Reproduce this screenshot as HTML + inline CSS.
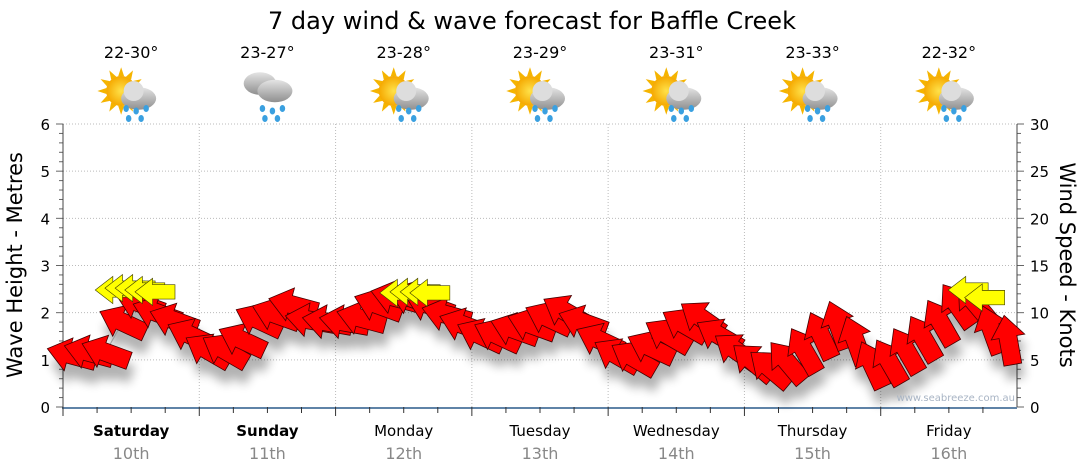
<!DOCTYPE html>
<html><head><meta charset="utf-8"><style>
body{margin:0;background:#fff;}
svg{display:block;font-family:"DejaVu Sans","Liberation Sans",sans-serif;}
</style></head><body>
<svg id="c" width="1080" height="475" viewBox="0 0 1080 475">
<defs>
<filter id="sh" x="-50%" y="-50%" width="200%" height="200%"><feGaussianBlur stdDeviation="5"/></filter>
<radialGradient id="sun" cx="50%" cy="50%" r="50%"><stop offset="0" stop-color="#ffe24a"/><stop offset="1" stop-color="#f5a800"/></radialGradient>
<linearGradient id="cl" x1="0" y1="0" x2="0" y2="1"><stop offset="0" stop-color="#e4e4e4"/><stop offset="1" stop-color="#8f8f8f"/></linearGradient>
</defs>
<text x="532" y="29" font-size="24" text-anchor="middle" fill="#000">7 day wind &amp; wave forecast for Baffle Creek</text>
<g id="grid"></g>
<g id="axes"></g>
<g id="icons"></g>
<g id="shadows" filter="url(#sh)" opacity="0.3"></g>
<polyline id="line" fill="none" stroke="#999" stroke-width="1"/>
<g id="arrows"></g>
<text x="1015" y="401" font-size="10" text-anchor="end" fill="#a8b4c4">www.seabreeze.com.au</text>
<text transform="translate(22,265) rotate(-90)" font-size="21" text-anchor="middle">Wave Height - Metres</text>
<text transform="translate(1060,265) rotate(90)" font-size="21" text-anchor="middle">Wind Speed - Knots</text>
</svg>
<script>
const days=["Saturday","Sunday","Monday","Tuesday","Wednesday","Thursday","Friday"];
const dates=["10th","11th","12th","13th","14th","15th","16th"];
const temps=["22-30°","23-27°","23-28°","23-29°","23-31°","23-33°","22-32°"];
const icons=["sun","rain","sun","sun","sun","sun","sun"];
const leftTicks=[0,1,2,3,4,5,6];
const rightTicks=[0,5,10,15,20,25,30];
const windKn=[5.5,5.8,5.8,9.0,11.0,10.0,9.2,7.6,6.0,6.0,7.1,9.2,9.8,10.8,9.2,9.0,9.0,9.4,10.8,11.6,11.5,10.8,9.8,8.7,7.6,7.6,8.2,8.7,9.4,10.1,9.0,7.1,5.5,5.2,6.3,7.6,8.7,9.4,7.6,6.0,4.8,4.1,4.8,6.0,7.6,8.7,7.1,4.5,4.8,6.0,7.3,9.0,10.8,11.1,8.2,7.1];
const windDir=[165,165,160,155,160,160,160,155,150,150,155,155,160,165,170,170,170,165,160,165,160,160,165,160,155,155,160,160,155,150,160,155,150,150,155,150,150,145,150,145,140,140,130,120,115,110,110,115,120,120,120,120,125,130,110,100];
const waveHours=[9.2,10.9,12.7,14.4,16.2,59.3,61.1,62.9,64.6,159.4,162.3];
const waveKn=[12.4,12.6,12.6,12.4,12.2,12.1,12.2,12.2,12.1,12.4,11.6];
const NS="http://www.w3.org/2000/svg";
const X0=63,X1=1017,Y0=407,Y1=124;
const dayW=(X1-X0)/7;
const xAt=h=>X0+h/24*dayW;
const yL=m=>Y0-(m/6)*(Y0-Y1);
const yR=k=>Y0-(k/30)*(Y0-Y1);
function mk(t,a,p){const e=document.createElementNS(NS,t);for(const k in a)e.setAttribute(k,a[k]);p.appendChild(e);return e;}
const grid=document.getElementById('grid'),axes=document.getElementById('axes');
leftTicks.forEach(v=>{if(v>0){const l=mk('line',{x1:X0,x2:X1,y1:yL(v),y2:yL(v),stroke:'#bbb','stroke-dasharray':'1,2'},grid);

}
const t=mk('text',{x:X0-13,y:yL(v)+6,'font-size':15,'text-anchor':'end'},axes);t.textContent=v;

});
rightTicks.forEach(v=>{const t=mk('text',{x:X1+13,y:yR(v)+6,'font-size':15},axes);t.textContent=v;

});
for(let i=0;i<=30;i++){const y=yR(i);const w=(i%5==0)?7:4;mk('line',{x1:X0-w,x2:X0,y1:y,y2:y,stroke:'#666'},axes);mk('line',{x1:X1,x2:X1+w,y1:y,y2:y,stroke:'#666'},axes);}
mk('line',{x1:X0,x2:X0,y1:Y1,y2:Y0,stroke:'#444'},axes);
mk('line',{x1:X1,x2:X1,y1:Y1,y2:Y0,stroke:'#444'},axes);
mk('line',{x1:X0-1,x2:X1,y1:Y0+1,y2:Y0+1,stroke:'#2a5a8a','stroke-width':1.5},axes);
for(let d=0;d<7;d++){
 if(d>0){const l=mk('line',{x1:xAt(d*24),x2:xAt(d*24),y1:Y1,y2:Y0,stroke:'#bbb','stroke-dasharray':'1,2'},grid);
 
 }
 for(let q=0;q<4;q++){const x=xAt(d*24+q*6);mk('line',{x1:x,x2:x,y1:Y0,y2:Y0+(q==0?9:6),stroke:'#333'},axes);}
 const cx=xAt(d*24+12);
 const dn=mk('text',{x:cx,y:436,'font-size':15,'text-anchor':'middle','font-weight':d<2?'bold':'normal'},axes);dn.textContent=days[d];
 
 
 const dt=mk('text',{x:cx,y:459,'font-size':16,'text-anchor':'middle',fill:'#888'},axes);dt.textContent=dates[d];
 
 
 const tt=mk('text',{x:cx,y:58,'font-size':16,'text-anchor':'middle'},axes);tt.textContent=temps[d];
 
 
 const g=mk('g',{transform:`translate(${cx},96) scale(1.25)`},document.getElementById('icons'));
 
 
 if(icons[d]=='sun'){
  for(let r=0;r<12;r++){const a=r*30*Math.PI/180;mk('polygon',{points:`${-8+12*Math.cos(a-0.2)},${-4+12*Math.sin(a-0.2)} ${-8+19*Math.cos(a)},${-4+19*Math.sin(a)} ${-8+12*Math.cos(a+0.2)},${-4+12*Math.sin(a+0.2)}`,fill:'#f5b400'},g);}
  mk('circle',{cx:-8,cy:-4,r:12,fill:'url(#sun)'},g);
  mk('ellipse',{cx:6,cy:2,rx:14,ry:9,fill:'url(#cl)'},g);
  mk('circle',{cx:2,cy:-4,r:8,fill:'#ddd'},g);
 }else{
  mk('ellipse',{cx:-6,cy:-10,rx:13,ry:9,fill:'url(#cl)'},g);
  mk('ellipse',{cx:6,cy:-4,rx:14,ry:9,fill:'url(#cl)'},g);
 }
 [[-4,10],[4,12],[12,10],[-2,18],[8,18]].forEach(p=>mk('ellipse',{cx:p[0],cy:p[1],rx:2.2,ry:2.8,fill:'#3aa0e0'},g));
}
const sh=document.getElementById('shadows'),ag=document.getElementById('arrows');
const poly="-25,-9 3,-9 3,-17 25,0 3,17 3,9 -25,9";
const pts=[];
windKn.forEach((k,i)=>{
 const x=xAt(i*3+1.5),y=yR(k);pts.push(x+','+y);
 mk('polygon',{points:poly,transform:`translate(${x+3},${y+14}) rotate(${-windDir[i]})`,fill:'#000'},sh);
 const a=mk('polygon',{points:poly,transform:`translate(${x},${y}) rotate(${-windDir[i]})`,fill:'#ff0000',stroke:'#400','stroke-width':0.8},ag);
 
 
});
waveKn.forEach((k,i)=>{
 const x=xAt(waveHours[i]),y=yR(k);
 const a=mk('polygon',{points:poly,transform:`translate(${x},${y}) rotate(180) scale(0.8)`,fill:'#ffff00',stroke:'#440','stroke-width':0.8},ag);
 
 
});
document.getElementById('line').setAttribute('points',pts.join(' '));
</script>
</body></html>
